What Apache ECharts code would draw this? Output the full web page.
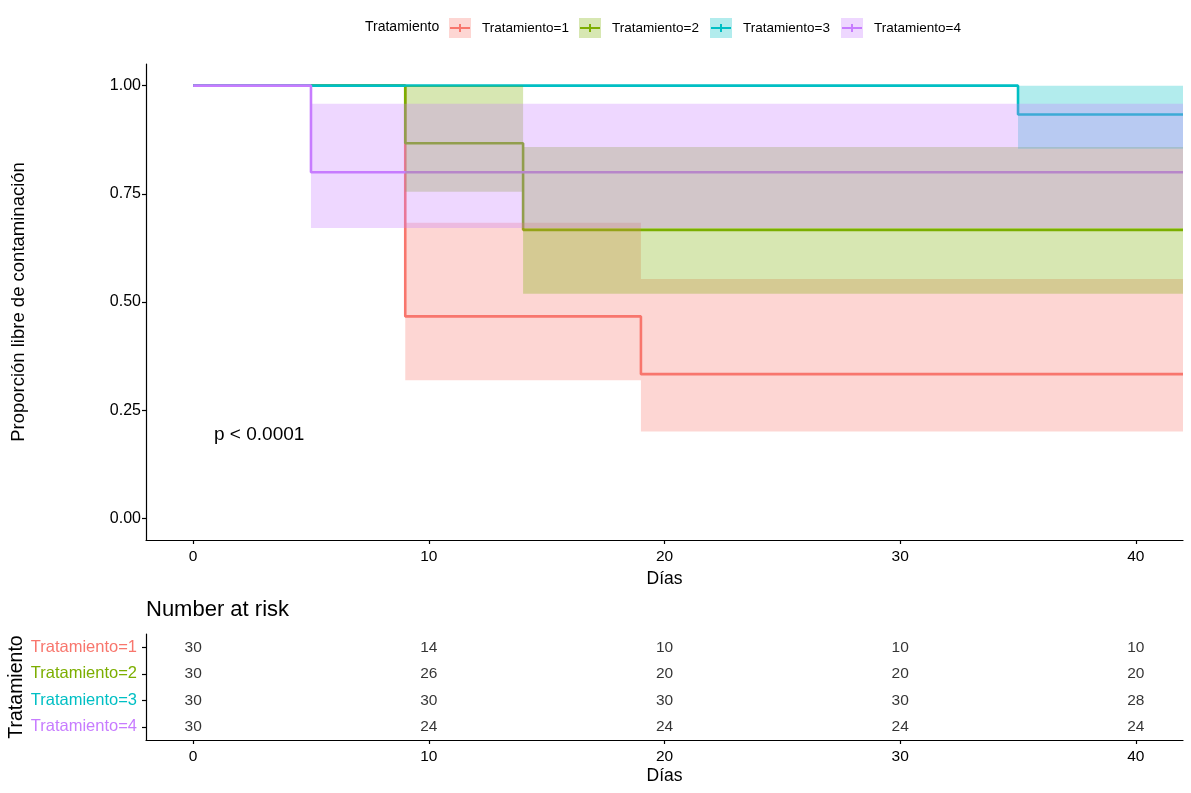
<!DOCTYPE html>
<html><head><meta charset="utf-8">
<script src="https://cdn.jsdelivr.net/npm/echarts@6/dist/echarts.min.js"></script>
<style>html,body{margin:0;padding:0;background:#fff}#c{width:1191px;height:793px}</style>
</head><body><div id="c"></div>
<script>
const groups = ['Tratamiento=1','Tratamiento=2','Tratamiento=3','Tratamiento=4'];
const colors = ['#F8766D','#7CAE00','#00BFC4','#C77CFF'];
const fills = ['rgba(248,118,109,0.3)','rgba(124,174,0,0.3)','rgba(0,191,196,0.3)','rgba(199,124,255,0.3)'];
// Kaplan-Meier steps: [day, survival]
const surv1 = [[0,1],[9,0.4667],[19,0.3333],[42,0.3333]];
const surv2 = [[0,1],[9,0.8667],[14,0.6667],[42,0.6667]];
const surv3 = [[0,1],[35,0.9333],[42,0.9333]];
const surv4 = [[0,1],[5,0.8],[42,0.8]];
// confidence bands: [start, end, lower, upper]
const ci1 = [[9,19,0.319,0.683],[19,42,0.201,0.553]];
const ci2 = [[9,14,0.755,1],[14,42,0.519,0.858]];
const ci3 = [[35,42,0.854,1]];
const ci4 = [[5,42,0.671,0.958]];
// number at risk
const riskTimes = [0,10,20,30,40];
const risk1 = [30,14,10,10,10];
const risk2 = [30,26,20,20,20];
const risk3 = [30,30,30,30,28];
const risk4 = [30,24,24,24,24];
const xTicks = [0,10,20,30,40];
const yTicks = [0,0.25,0.5,0.75,1];

const survs = [surv1,surv2,surv3,surv4];
const cis = [ci1,ci2,ci3,ci4];
const risks = [risk1,risk2,risk3,risk4];
const FONT = '"Liberation Sans", Arial, sans-serif';

const chart = echarts.init(document.getElementById('c'), null, {renderer:'canvas'});

const series = [];
survs.forEach((s,i)=>{
  series.push({type:'line', name:groups[i], xAxisIndex:0, yAxisIndex:0, data:s, step:'end',
    showSymbol:false, symbol:'none', lineStyle:{color:colors[i], width:2.6}, itemStyle:{color:colors[i]},
    z:2, silent:true, animation:false});
});
cis.forEach((c,i)=>{
  series.push({type:'custom', name:groups[i]+' IC', xAxisIndex:0, yAxisIndex:0, data:c,
    encode:{x:[0,1], y:[2,3]}, z:3, silent:true, animation:false,
    renderItem:(params, api)=>{
      const p0 = api.coord([api.value(0), api.value(3)]);
      const p1 = api.coord([api.value(1), api.value(2)]);
      return {type:'rect', shape:{x:p0[0], y:p0[1], width:p1[0]-p0[0], height:p1[1]-p0[1]}, style:{fill:fills[i]}};
    }});
});
risks.forEach((r,i)=>{
  series.push({type:'scatter', name:groups[i]+' risk', xAxisIndex:1, yAxisIndex:1,
    data: riskTimes.map((t,k)=>[t, groups[i], r[k]]), symbolSize:0, silent:true, animation:false,
    label:{show:true, position:'inside', formatter:p=>p.value[2], color:'#000', fontSize:15.5, fontFamily:FONT}});
});

const legendLefts = [444,574,705,836];
const BOX = 'path://M0,0 L22,0 L22,20 L0,20 Z M27.99,19.99 L28,19.99 L28,20 L27.99,20 Z';
const CROSS = 'path://M0,0 L0.01,0 L0.01,0.01 Z M27.99,19.99 L28,19.99 L28,20 L27.99,20 Z M1,9 L21,9 L21,11 L1,11 Z M10,6 L12,6 L12,14 L10,14 Z';
const legends = [];
groups.forEach((g,i)=>{
  legends.push({left:legendLefts[i], top:13, itemWidth:28, itemHeight:20, selectedMode:false, icon:BOX,
    symbolKeepAspect:false, itemStyle:{borderWidth:0}, data:[{name:g, itemStyle:{color:fills[i], borderWidth:0}}],
    textStyle:{color:'rgba(0,0,0,0)', fontSize:13.5, fontFamily:FONT}, z:4});
  legends.push({left:legendLefts[i], top:13, itemWidth:28, itemHeight:20, selectedMode:false, icon:CROSS,
    symbolKeepAspect:false, itemStyle:{borderWidth:0},
    data:[{name:g, itemStyle:{color:colors[i], borderWidth:0}}],
    textStyle:{color:'#000', fontSize:13.5, fontFamily:FONT}, z:6});
});

const axisLine = {show:true, onZero:false, lineStyle:{color:'#000', width:1.2}};
const axisTick = {show:true, length:4, lineStyle:{color:'#000', width:1.2}};

chart.setOption({
  animation:false,
  backgroundColor:'#fff',
  textStyle:{fontFamily:FONT},
  legend: legends,
  grid:[
    {left:146, right:8, top:64, height:476, containLabel:false, outerBoundsMode:'none'},
    {left:146, right:8, top:634, height:106, containLabel:false, outerBoundsMode:'none'}
  ],
  xAxis:[
    {type:'value', gridIndex:0, min:-2, max:42, splitLine:{show:false}, axisLine, axisTick:{...axisTick, customValues:xTicks},
      axisLabel:{customValues:xTicks, color:'#000', fontSize:15.5, fontFamily:FONT, margin:9},
      name:'Días', nameLocation:'middle', nameGap:30, nameMoveOverlap:false, nameTextStyle:{color:'#000', fontSize:17.5, fontFamily:FONT}},
    {type:'value', gridIndex:1, min:-2, max:42, splitLine:{show:false}, axisLine, axisTick:{...axisTick, customValues:xTicks},
      axisLabel:{customValues:xTicks, color:'#000', fontSize:15.5, fontFamily:FONT, margin:9},
      name:'Días', nameLocation:'middle', nameGap:27, nameMoveOverlap:false, nameTextStyle:{color:'#000', fontSize:17.5, fontFamily:FONT}}
  ],
  yAxis:[
    {type:'value', gridIndex:0, min:-0.05, max:1.05, splitLine:{show:false}, axisLine, axisTick:{...axisTick, customValues:yTicks},
      axisLabel:{customValues:yTicks, formatter:v=>v.toFixed(2), color:'#000', fontSize:16, fontFamily:FONT, margin:5},
      name:'Proporción libre de contaminación', nameLocation:'middle', nameGap:118, nameRotate:90, nameMoveOverlap:false,
      nameTextStyle:{color:'#000', fontSize:18.5, fontFamily:FONT}},
    {type:'category', gridIndex:1, data:groups, inverse:true, axisLine, axisTick:{...axisTick, alignWithLabel:true},
      axisLabel:{color:(v)=>colors[groups.indexOf(v)], fontSize:16.5, fontFamily:FONT, margin:9},
      name:'Tratamiento', nameLocation:'middle', nameGap:119, nameRotate:90, nameMoveOverlap:false,
      nameTextStyle:{color:'#000', fontSize:19.5, fontFamily:FONT}}
  ],
  graphic:[
    {type:'text', left:365, top:20, style:{text:'Tratamiento', fill:'#000', font:'14px '+FONT}},
    {type:'text', left:214, top:425, style:{text:'p < 0.0001', fill:'#000', font:'19px '+FONT}},
    {type:'text', left:146, top:599, style:{text:'Number at risk', fill:'#000', font:'22px '+FONT}}
  ],
  series
});
</script>
</body></html>
